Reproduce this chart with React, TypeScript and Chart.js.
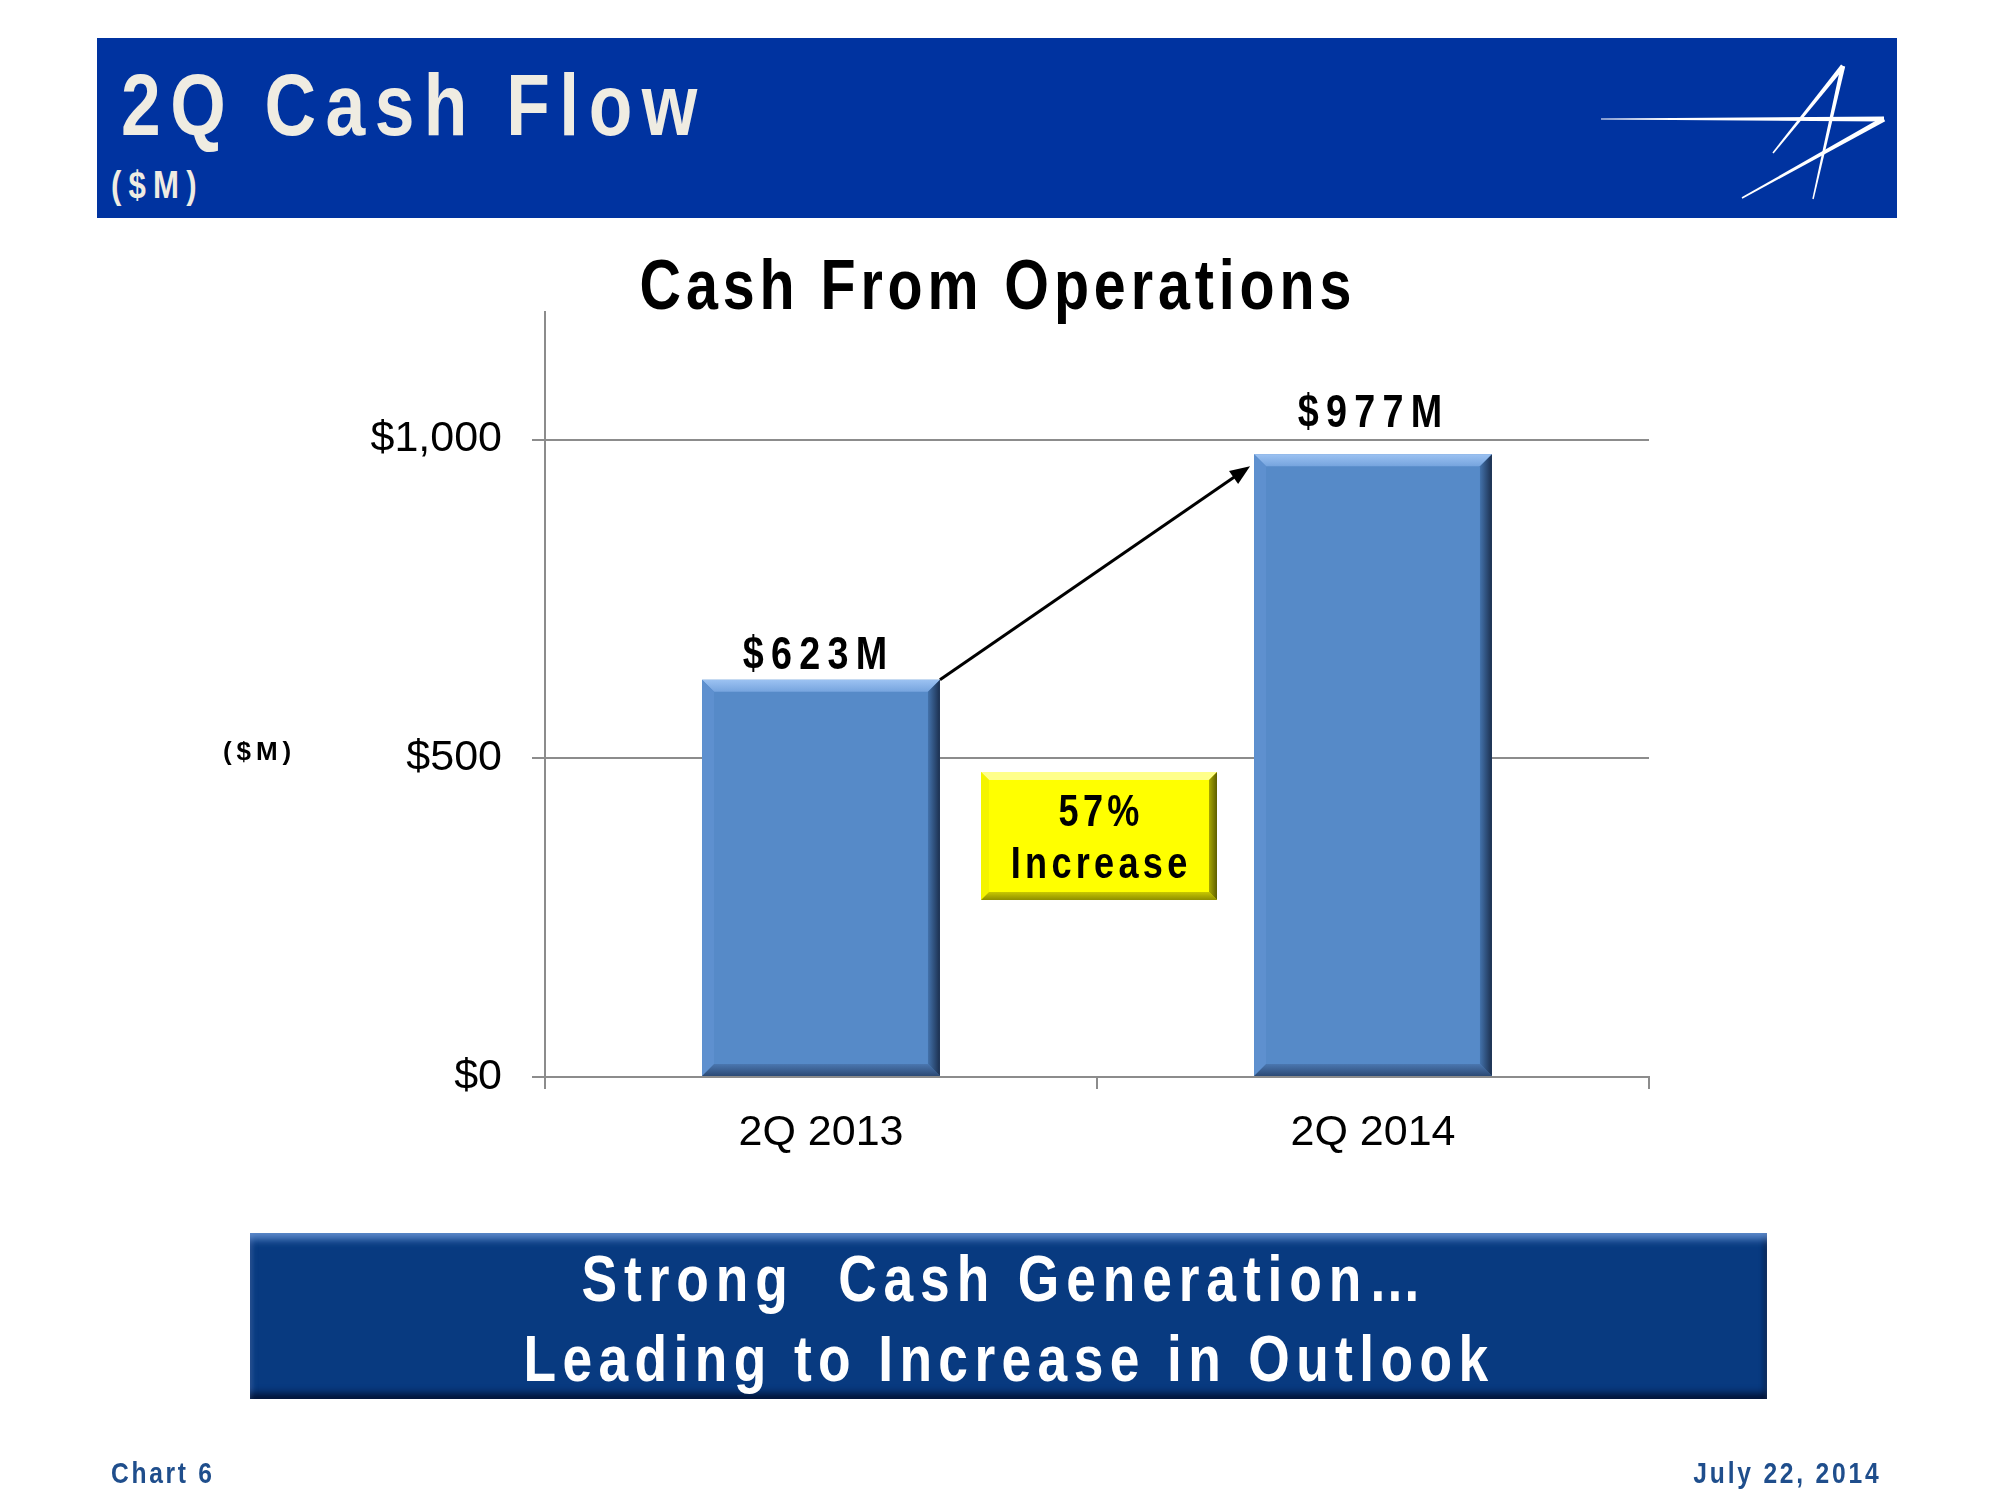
import React, { useEffect, useRef } from 'react';
import { Chart, registerables } from 'chart.js';

Chart.register(...registerables);

// ---------- data ----------
const categories = ['2Q 2013', '2Q 2014'];
const cashFromOperations = [623, 977];
const valueLabels = ['$623M', '$977M'];
const yTickValues = [0, 500, 1000];
const yAxisMax = 1200;

// ---------- styles ----------
const SANS = "'Liberation Sans', Arial, sans-serif";
const NARROW_SCALE = 0.82; // emulate Arial Narrow by horizontal compression
const GRID = '#8C8C8C';
const BAR = '#568AC8';

function taper(x1: number, y1: number, x2: number, y2: number, w1: number, w2: number): string {
  const dx = x2 - x1, dy = y2 - y1;
  const len = Math.hypot(dx, dy);
  const nx = -dy / len, ny = dx / len;
  const pts = [
    [x1 + nx * w1 / 2, y1 + ny * w1 / 2],
    [x2 + nx * w2 / 2, y2 + ny * w2 / 2],
    [x2 - nx * w2 / 2, y2 - ny * w2 / 2],
    [x1 - nx * w1 / 2, y1 - ny * w1 / 2],
  ];
  return pts.map((p) => p.map((v) => v.toFixed(1)).join(',')).join(' ');
}

type LabelProps = {
  text: string; x: number; baseline: number; size: number; color: string;
  weight?: string | number; ls?: number; align?: 'left' | 'center' | 'right'; narrow?: boolean;
};

function Label({ text, x, baseline, size, color, weight = 'bold', ls = 0, align = 'left', narrow = true }: LabelProps) {
  const k = narrow ? NARROW_SCALE : 1;
  const top = baseline - 0.8465 * size;
  const style: React.CSSProperties = {
    position: 'absolute', top, fontFamily: SANS, fontWeight: weight as any, fontSize: size,
    lineHeight: `${size}px`, color, letterSpacing: `${ls / k}px`, whiteSpace: 'pre', margin: 0,
    transform: `scaleX(${k})`,
  };
  if (align === 'left') { style.left = x; style.transformOrigin = 'left center'; }
  else if (align === 'right') { style.right = 2000 - x - ls; style.textAlign = 'right'; style.transformOrigin = 'right center'; }
  else { style.left = x - 1000 + ls / 2; style.width = 2000; style.textAlign = 'center'; style.transformOrigin = 'center center'; }
  return <div style={style}>{text}</div>;
}

function narrowText(ctx: CanvasRenderingContext2D, text: string, cx: number, y: number, size: number, ls: number) {
  const k = NARROW_SCALE;
  const lsc = ls / k;
  ctx.save();
  ctx.translate(cx, y);
  ctx.scale(k, 1);
  ctx.font = `bold ${size}px ${SANS}`;
  (ctx as any).letterSpacing = `${lsc}px`;
  ctx.textAlign = 'center';
  ctx.textBaseline = 'alphabetic';
  ctx.fillText(text, lsc / 2, 0);
  ctx.restore();
}

const annotationsPlugin = {
  id: 'annotations',
  afterDatasetsDraw(chart: any) {
    const ctx: CanvasRenderingContext2D = chart.ctx;
    const meta = chart.getDatasetMeta(0);
    const bars = meta.data.map((el: any) => el.getProps(['x', 'y', 'base', 'width'], true));

    // bevelled bars
    bars.forEach((b: any) => {
      const l = b.x - b.width / 2, r = b.x + b.width / 2, t = b.y, btm = b.base;
      const e = 12;
      ctx.save();
      let g = ctx.createLinearGradient(0, t, 0, t + e);
      g.addColorStop(0, '#9CC2F2');
      g.addColorStop(1, '#76A4DE');
      ctx.fillStyle = g;
      ctx.beginPath(); ctx.moveTo(l, t); ctx.lineTo(r, t); ctx.lineTo(r - e, t + e); ctx.lineTo(l + e, t + e); ctx.closePath(); ctx.fill();
      ctx.fillStyle = '#5E90CF';
      ctx.beginPath(); ctx.moveTo(l, t); ctx.lineTo(l + e, t + e); ctx.lineTo(l + e, btm - e); ctx.lineTo(l, btm); ctx.closePath(); ctx.fill();
      g = ctx.createLinearGradient(0, btm - e, 0, btm);
      g.addColorStop(0, '#4B77B0');
      g.addColorStop(1, '#2C4A75');
      ctx.fillStyle = g;
      ctx.beginPath(); ctx.moveTo(l, btm); ctx.lineTo(r, btm); ctx.lineTo(r - e, btm - e); ctx.lineTo(l + e, btm - e); ctx.closePath(); ctx.fill();
      g = ctx.createLinearGradient(r - e, 0, r, 0);
      g.addColorStop(0, '#4372AB');
      g.addColorStop(1, '#1B2F4E');
      ctx.fillStyle = g;
      ctx.beginPath(); ctx.moveTo(r, t); ctx.lineTo(r, btm); ctx.lineTo(r - e, btm - e); ctx.lineTo(r - e, t + e); ctx.closePath(); ctx.fill();
      ctx.restore();
    });

    // value labels
    const gaps = [11, 27];
    const shifts = [-6, -3];
    ctx.save();
    ctx.fillStyle = '#000';
    bars.forEach((b: any, i: number) => {
      narrowText(ctx, valueLabels[i], b.x + shifts[i], b.y - gaps[i], 46, 7.3);
    });
    ctx.restore();

    // arrow
    const b0 = bars[0], b1 = bars[1];
    const sx = b0.x + b0.width / 2, sy = b0.y;
    const ex = b1.x - b1.width / 2 - 4, ey = b1.y + 12;
    const ang = Math.atan2(ey - sy, ex - sx);
    const hl = 20, hw = 8;
    ctx.save();
    ctx.strokeStyle = '#000';
    ctx.fillStyle = '#000';
    ctx.lineWidth = 3;
    ctx.beginPath();
    ctx.moveTo(sx, sy);
    ctx.lineTo(ex - Math.cos(ang) * hl * 0.8, ey - Math.sin(ang) * hl * 0.8);
    ctx.stroke();
    ctx.beginPath();
    ctx.moveTo(ex, ey);
    ctx.lineTo(ex - Math.cos(ang) * hl - Math.sin(ang) * hw, ey - Math.sin(ang) * hl + Math.cos(ang) * hw);
    ctx.lineTo(ex - Math.cos(ang) * hl + Math.sin(ang) * hw, ey - Math.sin(ang) * hl - Math.cos(ang) * hw);
    ctx.closePath();
    ctx.fill();
    ctx.restore();

    // yellow increase box
    const pct = Math.round((cashFromOperations[1] / cashFromOperations[0] - 1) * 100);
    const cx = (b0.x + b1.x) / 2 + 2;
    const bw = 236, bh = 128;
    const bl = cx - bw / 2, bt = chart.chartArea.top + 460, br = bl + bw, bb = bt + bh;
    const e = 8;
    ctx.save();
    ctx.fillStyle = '#FFFF00';
    ctx.fillRect(bl, bt, bw, bh);
    ctx.fillStyle = '#FFFF8A';
    ctx.beginPath(); ctx.moveTo(bl, bt); ctx.lineTo(br, bt); ctx.lineTo(br - e, bt + e); ctx.lineTo(bl + e, bt + e); ctx.closePath(); ctx.fill();
    ctx.fillStyle = '#F4F400';
    ctx.beginPath(); ctx.moveTo(bl, bt); ctx.lineTo(bl + e, bt + e); ctx.lineTo(bl + e, bb - e); ctx.lineTo(bl, bb); ctx.closePath(); ctx.fill();
    let g2 = ctx.createLinearGradient(0, bb - e, 0, bb);
    g2.addColorStop(0, '#C8C800');
    g2.addColorStop(1, '#8F8F00');
    ctx.fillStyle = g2;
    ctx.beginPath(); ctx.moveTo(bl, bb); ctx.lineTo(br, bb); ctx.lineTo(br - e, bb - e); ctx.lineTo(bl + e, bb - e); ctx.closePath(); ctx.fill();
    g2 = ctx.createLinearGradient(br - e, 0, br, 0);
    g2.addColorStop(0, '#A8A800');
    g2.addColorStop(1, '#5E5E00');
    ctx.fillStyle = g2;
    ctx.beginPath(); ctx.moveTo(br, bt); ctx.lineTo(br, bb); ctx.lineTo(br - e, bb - e); ctx.lineTo(br - e, bt + e); ctx.closePath(); ctx.fill();
    ctx.fillStyle = '#000';
    narrowText(ctx, `${pct}%`, cx, bt + 54, 44, 4.3);
    narrowText(ctx, 'Increase', cx, bt + 106, 44, 4.3);
    ctx.restore();
  },
};

function CashChart() {
  const ref = useRef<HTMLCanvasElement | null>(null);
  useEffect(() => {
    if (!ref.current) return;
    const chart = new Chart(ref.current, {
      type: 'bar',
      data: {
        labels: categories,
        datasets: [{
          data: cashFromOperations,
          backgroundColor: BAR,
          borderWidth: 0,
          categoryPercentage: 1,
          barPercentage: 0.431,
        }],
      },
      options: {
        animation: false,
        responsive: false,
        maintainAspectRatio: false,
        devicePixelRatio: 1,
        layout: { padding: { left: 0, right: 351, top: 312, bottom: 303 } },
        plugins: { legend: { display: false }, tooltip: { enabled: false }, title: { display: false } },
        scales: {
          x: {
            grid: { drawOnChartArea: false, drawTicks: true, tickLength: 12, color: GRID, lineWidth: 2, offset: true },
            border: { color: GRID, width: 2 },
            ticks: { font: { family: SANS, size: 43 }, color: '#000', padding: 18 },
            afterFit: (s: any) => { s.height = 120; },
          },
          y: {
            min: 0,
            max: yAxisMax,
            afterBuildTicks: (s: any) => { s.ticks = yTickValues.map((v) => ({ value: v })); },
            grid: { color: GRID, lineWidth: 2, tickLength: 13 },
            border: { color: GRID, width: 2 },
            ticks: {
              font: { family: SANS, size: 43 },
              color: '#000',
              padding: 30,
              callback: (v: any) => '$' + Number(v).toLocaleString('en-US'),
            },
            afterFit: (s: any) => { s.width = 545; },
          },
        },
      } as any,
      plugins: [annotationsPlugin],
    });
    return () => chart.destroy();
  }, []);
  return <canvas ref={ref} width={2000} height={1500} style={{ position: 'absolute', left: 0, top: 0, width: 2000, height: 1500, display: 'block' }} />;
}

export default function App() {
  useEffect(() => {
    document.body.style.margin = '0';
    document.body.style.background = '#fff';
  }, []);
  const cream = '#EFECE2';
  return (
    <div style={{ position: 'relative', width: 2000, height: 1500, background: '#fff', overflow: 'hidden' }}>
      {/* header banner */}
      <div style={{ position: 'absolute', left: 97, top: 38, width: 1800, height: 180, background: '#0033A0' }} />
      <svg width={2000} height={240} style={{ position: 'absolute', left: 0, top: 0 }}>
        <polygon points={taper(1601, 119, 1884, 119, 1.2, 5)} fill="#fff" />
        <polygon points={taper(1884, 119, 1742, 198, 5, 1.5)} fill="#fff" />
        <polygon points={taper(1843, 66, 1773, 153, 5, 1.5)} fill="#fff" />
        <polygon points={taper(1843, 66, 1813, 199, 4.5, 1.5)} fill="#fff" />
      </svg>
      <Label text="2Q Cash Flow" x={121} baseline={135} size={87} color={cream} ls={9.5} />
      <Label text="($M)" x={111} baseline={198} size={38} color={cream} ls={7.2} />

      <CashChart />

      <Label text="Cash From Operations" x={996} baseline={309} size={70} color="#000" ls={4.9} align="center" />
      <Label text="($M)" x={223} baseline={760} size={26} color="#000" ls={4.9} narrow={false} />

      {/* bottom banner */}
      <div style={{
        position: 'absolute', left: 250, top: 1233, width: 1517, height: 166, background: '#083A80',
        boxShadow: 'inset 0 10px 8px -4px rgba(110,155,220,0.85), inset 0 -9px 7px -3px rgba(0,10,35,0.75), inset -5px 0 5px -2px rgba(0,10,35,0.5), inset 5px 0 5px -2px rgba(60,100,170,0.5)',
      }} />
      <Label text="Strong  Cash Generation…" x={1002} baseline={1301} size={65} color="#fff" ls={6.9} align="center" />
      <Label text="Leading to Increase in Outlook" x={1006} baseline={1381} size={65} color="#fff" ls={6.4} align="center" />

      <Label text="Chart 6" x={111} baseline={1483} size={30} color="#1F4E8C" ls={2.7} />
      <Label text="July 22, 2014" x={1879} baseline={1483} size={30} color="#1F4E8C" ls={2.8} align="right" />
    </div>
  );
}
